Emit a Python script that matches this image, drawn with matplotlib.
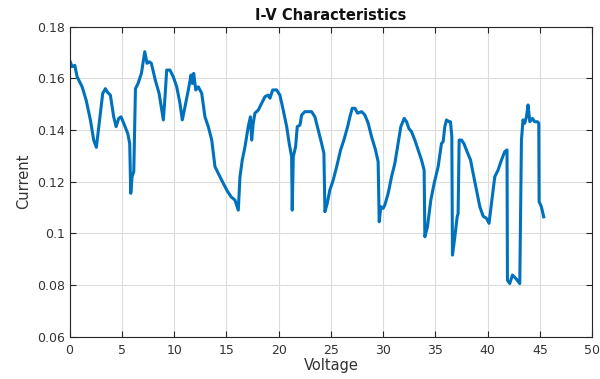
import matplotlib
matplotlib.use("Agg")
import matplotlib.pyplot as plt
from matplotlib.ticker import FuncFormatter

plt.rcParams['font.family'] = ['DejaVu Sans']

voltage = [0.0, 0.24, 0.5, 0.72, 1.2, 1.58, 1.99, 2.31, 2.56, 2.72, 2.95, 3.17, 3.43, 3.59, 3.9,
           4.22, 4.45, 4.7, 4.92, 5.18, 5.56, 5.75, 5.85, 5.98, 6.14, 6.3, 6.55, 6.87, 7.19, 7.41,
           7.63, 7.82, 8.2, 8.56, 8.97, 9.13, 9.29, 9.6, 9.92, 10.25, 10.56, 10.78, 11.04, 11.36,
           11.62, 11.74, 11.87, 12.07, 12.32, 12.64, 12.95, 13.27, 13.6, 13.91, 14.23, 14.55, 15.03,
           15.44, 15.82, 16.14, 16.3, 16.52, 16.78, 17.09, 17.3, 17.42, 17.57, 17.73, 18.05, 18.37,
           18.69, 19.0, 19.17, 19.43, 19.81, 20.12, 20.44, 20.77, 21.01, 21.24, 21.3, 21.4, 21.62,
           21.78, 22.04, 22.2, 22.51, 22.83, 23.15, 23.47, 23.79, 24.11, 24.33, 24.43, 24.65, 24.9,
           25.22, 25.55, 25.93, 26.24, 26.6, 26.82, 27.04, 27.3, 27.55, 27.94, 28.25, 28.57, 28.89,
           29.27, 29.52, 29.62, 29.78, 30.0, 30.16, 30.48, 30.8, 31.12, 31.43, 31.69, 32.01, 32.24,
           32.46, 32.72, 33.03, 33.35, 33.67, 33.92, 33.99, 34.24, 34.56, 34.88, 35.26, 35.58, 35.74,
           35.9, 36.06, 36.31, 36.44, 36.57, 36.63, 36.86, 37.08, 37.17, 37.27, 37.5, 37.72, 38.03,
           38.36, 38.61, 38.93, 39.25, 39.56, 39.89, 40.13, 40.36, 40.68, 40.99, 41.32, 41.63, 41.85,
           41.89, 42.11, 42.37, 42.69, 43.07, 43.23, 43.38, 43.54, 43.71, 43.86, 44.03, 44.28, 44.5,
           44.76, 44.89, 44.92, 45.14, 45.36]

current = [0.167, 0.1645, 0.165, 0.1606, 0.1567, 0.1516, 0.1439, 0.136, 0.1333, 0.1387, 0.1465,
           0.1542, 0.156, 0.1548, 0.1535, 0.1451, 0.1413, 0.1445, 0.1451, 0.1426, 0.1387, 0.1348,
           0.1155, 0.122, 0.1239, 0.156, 0.158, 0.1619, 0.1703, 0.1658, 0.1664, 0.1658, 0.1593,
           0.1542, 0.1439, 0.1529, 0.1632, 0.1632, 0.1606, 0.1567, 0.1503, 0.1439, 0.149, 0.1555,
           0.1613, 0.158, 0.1619, 0.1555, 0.1567, 0.1542, 0.1451, 0.1413, 0.1361, 0.1258, 0.1232,
           0.1206, 0.1168, 0.1142, 0.1129, 0.109, 0.1219, 0.1284, 0.1335, 0.1413, 0.1451, 0.1361,
           0.1426, 0.1465, 0.1477, 0.1503, 0.1529, 0.1535, 0.1523, 0.1555, 0.1555, 0.1535, 0.1477,
           0.1413, 0.1348, 0.1297, 0.109, 0.1297, 0.1335, 0.1413, 0.1419, 0.1458, 0.1471, 0.1471,
           0.1471, 0.1451, 0.14, 0.1348, 0.131, 0.1084, 0.1116, 0.1168, 0.1206, 0.1258, 0.1323,
           0.1361, 0.1413, 0.1451, 0.1484, 0.1484, 0.1465, 0.1471, 0.1458, 0.1426, 0.1374, 0.1323,
           0.1277, 0.1045, 0.1103, 0.1097, 0.111, 0.1155, 0.1219, 0.1271, 0.1348, 0.1413, 0.1445,
           0.1432, 0.1406, 0.1393, 0.1361, 0.1323, 0.1284, 0.1245, 0.0987, 0.1026, 0.1129, 0.1194,
           0.1258, 0.1348, 0.1355, 0.1413, 0.1439, 0.1432, 0.1432, 0.1374, 0.0916, 0.0987, 0.1064,
           0.1077, 0.1361, 0.1361, 0.1348, 0.1316, 0.1284, 0.1232, 0.1168, 0.1103, 0.1067, 0.1058,
           0.1039, 0.1116, 0.1219, 0.1245, 0.1284, 0.1316, 0.1323, 0.0819, 0.0806, 0.0839, 0.0826,
           0.0806, 0.1361, 0.1439, 0.1426, 0.1451, 0.1497, 0.1432, 0.1445, 0.1432, 0.1432, 0.1426,
           0.1123, 0.1103, 0.1064]

x_ticks = [0, 5, 10, 15, 20, 25, 30, 35, 40, 45, 50]
y_ticks = [0.06, 0.08, 0.1, 0.12, 0.14, 0.16, 0.18]

fig = plt.figure(figsize=(6.0, 3.79), dpi=100)
ax = fig.add_axes([0.116, 0.1113, 0.871, 0.8185])
ax.plot(voltage, current, color='#0072BD', linewidth=2.2)

ax.set_xlim(0, 50)
ax.set_ylim(0.06, 0.18)
ax.set_xticks(x_ticks)
ax.set_yticks(y_ticks)
ax.yaxis.set_major_formatter(FuncFormatter(lambda v, p: '%g' % round(v, 4)))
ax.grid(True, color='#dcdcdc', linewidth=0.8)
ax.set_axisbelow(True)
for s in ax.spines.values():
    s.set_color('#262626')
    s.set_linewidth(0.8)
ax.tick_params(direction='in', top=True, right=True, length=4, width=0.8,
               colors='#262626', labelsize=9, labelcolor='#333333')
ax.tick_params(axis='x', pad=5)
ax.set_xlabel('Voltage', fontsize=10.5, color='#333333', labelpad=1)
ax.set_ylabel('Current', fontsize=10.5, color='#333333', labelpad=4)
ax.set_title('I-V Characteristics', fontsize=10.5, fontweight='bold', pad=5, color='#111111')

fig.savefig('out.png', dpi=100)
